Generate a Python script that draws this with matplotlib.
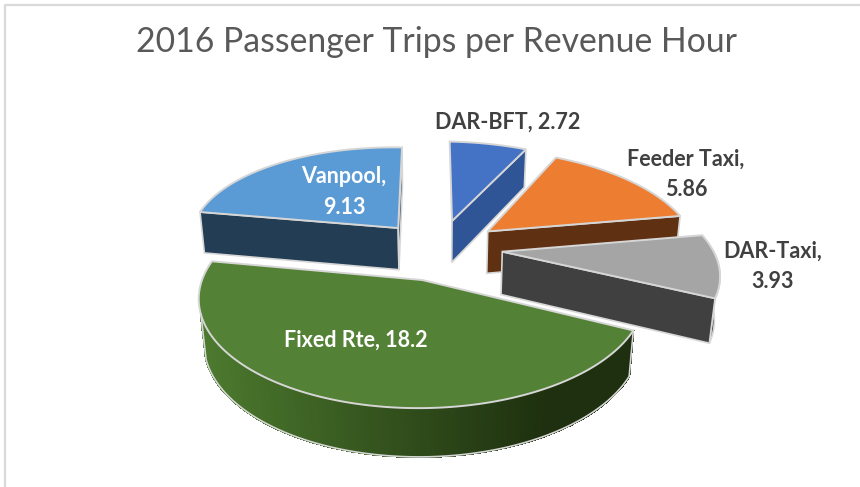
#!/usr/bin/env python3
"""2016 passenger trips per revenue hour, exploded 3D pie drawn by hand."""

import matplotlib
matplotlib.use("Agg")
import matplotlib.pyplot as plt
from matplotlib.patches import Polygon
import numpy as np

# ---------------------------------------------------------------------------
# Data
# ---------------------------------------------------------------------------

TITLE = "2016 Passenger Trips per Revenue Hour"
NAMES = ["Fixed Rte", "Vanpool", "DAR-BFT", "Feeder Taxi", "DAR-Taxi"]
VALUES = [18.2, 9.13, 2.72, 5.86, 3.93]

# ---------------------------------------------------------------------------
# Style
# ---------------------------------------------------------------------------

TOP_COLORS = ["#538135", "#5b9bd5", "#4472c4", "#ed7d31", "#a5a5a5"]
WALL_COLORS = ["#2f4f1c", "#223d54", "#2f5597", "#5f3012", "#404040"]
GREEN_WALL_LEFT = np.array([0x4c, 0x7a, 0x2e]) / 255
GREEN_WALL_RIGHT = np.array([0x1e, 0x30, 0x0f]) / 255
EDGE = "#d6d6d6"

START_ANGLE = -25.8    # slices run clockwise from here
EXPLODE = 0.3
# projection of the pie plane to screen pixels
CX, CY, RX, RY = 439.0, 250.5, 215.0, 99.0
TILT, DEPTH, DEPTH_W = 0.15, 43.5, 0.02

# per slice nudges to follow the original perspective: dx, dy, x scale, shear
NUDGES = [
    (4, 0, 0.98, 0.0),
    (-2, 0, 0.99, 0.12),
    (-3, -2, 1.0, 0.114),
    (-2, -2, 0.97, 0.118),
    (-1, -3, 0.977, 0.1),
]

DRAW_ORDER = [2, 1, 3, 4, 0]
LABEL_XY = [(356, 340), (344, 192), (508, 122), (686, 174), (773, 266)]
LABEL_COLOR = ["white", "white", "#404040", "#404040", "#404040"]
LABEL_TEXT = ["{}, {}", "{},\n{}", "{}, {}", "{},\n{}", "{},\n{}"]


def base_project(u, v, h=0.0):
    w = 1 + TILT * v + DEPTH_W * h
    return np.column_stack([CX + RX * u / w, CY + (-RY * v + DEPTH * h) / w])


def project(u, v, h, apex, nudge):
    dx, dy, sx, shear = nudge
    pts = base_project(u, v, h)
    top = base_project(u, v, 0.0)
    x = pts[:, 0] + dx + (sx - 1) * (pts[:, 0] - apex[0]) + shear * (top[:, 1] - apex[1])
    return np.column_stack([x, pts[:, 1] + dy])


def wall(ax, top, bottom, color):
    pts = np.vstack([top, bottom[::-1]])
    ax.add_patch(Polygon(pts, closed=True, facecolor=color, edgecolor=EDGE, linewidth=1.2))


def draw_slice(ax, a1, a2, top_color, wall_color, nudge, gradient):
    """Slice going clockwise from angle a1 to a2 (degrees)."""
    mid = np.radians((a1 + a2) / 2)
    ou, ov = EXPLODE * np.cos(mid), EXPLODE * np.sin(mid)
    theta = np.radians(np.linspace(a1, a2, 160))
    au = ou + np.cos(theta)
    av = ov + np.sin(theta)
    ou_a, ov_a = np.array([ou]), np.array([ov])
    apex = base_project(ou_a, ov_a)[0]

    # side walls: outer rim first, then the radial faces that look at the camera
    # the big slice starts its wall lower down, at its visible silhouette
    front = np.sin(theta) < (-0.3 if gradient else 0)
    if front.any():
        idx = np.where(front)[0]
        rim_top = project(au[idx], av[idx], 0.0, apex, nudge)
        rim_bot = project(au[idx], av[idx], 1.0, apex, nudge)
        if gradient:
            x_min, x_max = rim_top[:, 0].min(), rim_top[:, 0].max()
            for i in range(len(idx) - 1):
                t = (rim_top[i, 0] - x_min) / (x_max - x_min)
                t = min(1.0, t / 0.8)
                col = GREEN_WALL_LEFT * (1 - t) + GREEN_WALL_RIGHT * t
                ax.add_patch(Polygon(np.vstack([rim_top[i:i + 2], rim_bot[i:i + 2][::-1]]),
                                     closed=True, facecolor=col, edgecolor=col,
                                     linewidth=1.0, antialiased=False))
            outline = np.vstack([rim_top[[0]], rim_bot, rim_top[[-1]]])
            ax.plot(outline[:, 0], outline[:, 1], color=EDGE, linewidth=1.2)
        else:
            wall(ax, rim_top, rim_bot, wall_color)

    for i, normal in [(0, a1 + 90), (-1, a2 - 90)]:
        if np.sin(np.radians(normal)) < 0:
            line_u = np.array([ou, au[i]])
            line_v = np.array([ov, av[i]])
            wall(ax, project(line_u, line_v, 0.0, apex, nudge),
                 project(line_u, line_v, 1.0, apex, nudge), wall_color)

    top = np.vstack([project(ou_a, ov_a, 0.0, apex, nudge), project(au, av, 0.0, apex, nudge)])
    ax.add_patch(Polygon(top, closed=True, facecolor=top_color, edgecolor=EDGE, linewidth=1.4))


def main():
    fig = plt.figure(figsize=(8.6, 4.87), dpi=100)
    ax = fig.add_axes([0, 0, 1, 1])
    ax.set_xlim(0, 860)
    ax.set_ylim(487, 0)
    ax.axis("off")

    # chart frame
    ax.plot([860, 5, 5], [5, 5, 487], color="#d9d9d9", linewidth=1.6)

    ax.text(437, 42, TITLE, ha="center", va="center", fontsize=24.3,
            color="#595959", family=["Lato", "DejaVu Sans"])

    total = sum(VALUES)
    spans = [v / total * 360 for v in VALUES]
    ends = np.cumsum(spans)
    angles = [(START_ANGLE - (e - s), START_ANGLE - e) for s, e in zip(spans, ends)]

    for i in DRAW_ORDER:
        a1, a2 = angles[i]
        draw_slice(ax, a1, a2, TOP_COLORS[i], WALL_COLORS[i], NUDGES[i], gradient=(i == 0))

    for name, val, xy, col, fmt in zip(NAMES, VALUES, LABEL_XY, LABEL_COLOR, LABEL_TEXT):
        ax.text(xy[0], xy[1], fmt.format(name, val), ha="center", va="center",
                fontsize=15.5, fontweight="bold", color=col, linespacing=1.55,
                family=["Lato", "DejaVu Sans"])

    fig.savefig("out.png", dpi=100)
    plt.close(fig)


if __name__ == "__main__":
    main()
